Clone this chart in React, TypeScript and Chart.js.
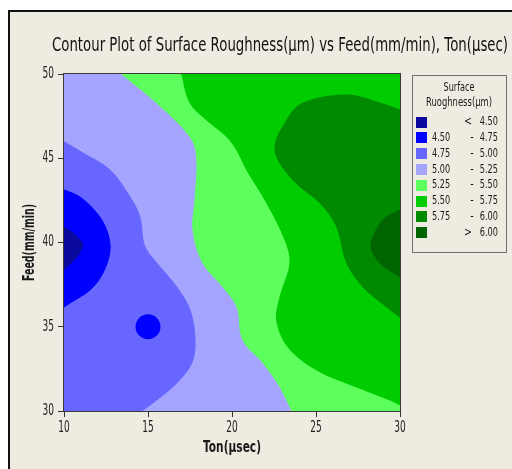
import React, { useEffect, useRef } from 'react';
import { Chart, registerables } from 'chart.js';

Chart.register(...registerables);

// Axis ticks
const tonTicks = [10, 15, 20, 25, 30];
const feedTicks = [30, 35, 40, 45, 50];

// Legend (contour levels)
const legendLow = ['', '4.50', '4.75', '5.00', '5.25', '5.50', '5.75', ''];
const legendSep = ['<', '-', '-', '-', '-', '-', '-', '>'];
const legendHigh = ['4.50', '4.75', '5.00', '5.25', '5.50', '5.75', '6.00', '6.00'];
const levelColors = ['#0a0a9c', '#0000ff', '#6767ff', '#a5a5ff', '#5cff5c', '#00cc00', '#008a00', '#006400'];

// Contour region boundaries, [Ton, Feed]
const region500to525: [number, number][] = [[9, 29], [31, 29], [31, 51], [9, 51]];
const regionBelow500: [number, number][] = [
  [9, 46.57], [10, 45.98], [11.13, 45.31], [12.74, 44.3], [13.93, 42.7], [14.52, 41.51], [14.7, 40.15],
  [14.92, 39.55], [15.52, 38.78], [16.71, 37.36], [17.5, 35.99], [17.8, 34.21], [17.6, 32.85],
  [16.71, 31.66], [15.52, 30.65], [14.62, 30.0], [13.8, 29.4], [9, 29.4],
];
const regionBelow475: [number, number][] = [
  [9, 43.5], [10, 43.12], [10.95, 42.7], [11.95, 41.75], [12.54, 40.74], [12.74, 39.55], [12.32, 38.19],
  [11.55, 37.18], [10.36, 36.41], [10, 36.17], [9, 35.5],
];
const regionBelow450: [number, number][] = [
  [9, 41.6], [10, 40.92], [10.54, 40.56], [10.95, 40.15], [11.13, 39.85], [10.95, 39.44], [10.77, 39.14],
  [10.18, 38.55], [10, 38.37], [9, 37.4],
];
const dotBelow475: [number, number] = [15, 35];
const regionAbove525: [number, number][] = [
  [12.2, 51], [13.43, 50], [15.52, 48.28], [17.5, 46.28], [17.9, 45.09], [17.8, 42.52], [17.68, 40.74],
  [18.27, 38.78], [19.46, 37.36], [20.3, 36.17], [20.65, 34.21], [21.85, 32.85], [22.86, 31.42],
  [23.57, 30], [24.07, 29], [31, 29], [31, 51],
];
const regionAbove550: [number, number][] = [
  [16.7, 51], [17.0, 50], [17.5, 48.28], [18.49, 47.27], [19.68, 46.28], [20.28, 45.49], [20.88, 44.3],
  [22.07, 42.34], [23.15, 40.15], [23.45, 38.78], [22.86, 36.77], [22.66, 35.4], [23.33, 33.8],
  [25.04, 32.43], [27.42, 31.42], [29.4, 30.65], [30, 30.36], [31, 29.9], [31, 51],
];
const regionAbove575: [number, number][] = [
  [31, 47.5], [30, 47.86], [28.81, 48.28], [26.83, 48.75], [24.23, 48.28], [23.26, 47.27], [22.56, 45.49],
  [23.63, 43.71], [25.24, 42.34], [26.23, 40.94], [26.83, 38.78], [27.8, 37.36], [29.21, 36.17],
  [30, 35.58], [31, 35],
];
const regionAbove600: [number, number][] = [
  [31, 42.5], [30, 41.93], [28.99, 41.34], [28.32, 40.15], [28.32, 39.55], [28.81, 38.78], [30, 37.95],
  [31, 37.3],
];

const titleText = 'Contour Plot of Surface Roughness(µm) vs Feed(mm/min), Ton(µsec)';
const xTitle = 'Ton(µsec)';
const yTitle = 'Feed(mm/min)';
const legendTitle = ['Surface', 'Ruoghness(µm)'];

const FONT = '"DejaVu Sans", "Liberation Sans", sans-serif';

function drawFit(ctx: CanvasRenderingContext2D, s: string, x: number, y: number, font: string, align: CanvasTextAlign, opts: { width?: number; sx?: number; rot?: number; color?: string }) {
  ctx.save();
  ctx.font = font;
  ctx.fillStyle = opts.color || '#1a1a1a';
  ctx.textBaseline = 'middle';
  ctx.textAlign = align;
  const w = ctx.measureText(s).width;
  const sx = opts.width ? opts.width / w : opts.sx || 1;
  ctx.translate(x, y);
  if (opts.rot) ctx.rotate(opts.rot);
  ctx.scale(sx, 1);
  ctx.fillText(s, 0, 0);
  ctx.restore();
}

const decorPlugin = {
  id: 'decor',
  beforeDraw(chart: any) {
    const ctx = chart.ctx as CanvasRenderingContext2D;
    const W = chart.width, H = chart.height;
    ctx.save();
    ctx.fillStyle = '#ffffff';
    ctx.fillRect(0, 0, W, H);
    ctx.fillStyle = '#eeebe1';
    ctx.fillRect(10, 12, W - 10, H - 12);
    ctx.fillStyle = '#111111';
    ctx.fillRect(8, 10, 2, H - 10);
    ctx.fillRect(8, 10, W - 8, 2);
    ctx.restore();
  },
  afterDraw(chart: any) {
    const ctx = chart.ctx as CanvasRenderingContext2D;
    const a = chart.chartArea;
    const xs = chart.scales.x, ys = chart.scales.y;
    // plot frame
    ctx.save();
    ctx.strokeStyle = '#3a3a3a';
    ctx.lineWidth = 1;
    ctx.strokeRect(Math.round(a.left) - 0.5, Math.round(a.top) - 0.5, Math.round(a.right - a.left) + 1, Math.round(a.bottom - a.top) + 1);
    ctx.restore();
    // tick labels
    tonTicks.forEach((t) => {
      drawFit(ctx, String(t), xs.getPixelForValue(t), a.bottom + 17, `15px ${FONT}`, 'center', { sx: 0.6, color: '#222' });
    });
    feedTicks.forEach((t) => {
      drawFit(ctx, String(t), a.left - 10, ys.getPixelForValue(t), `15px ${FONT}`, 'right', { sx: 0.6, color: '#222' });
    });
    // titles
    drawFit(ctx, titleText, 280, 46, `19px ${FONT}`, 'center', { width: 456, color: '#111' });
    drawFit(ctx, xTitle, (a.left + a.right) / 2, 448, `bold 15px ${FONT}`, 'center', { width: 58 });
    drawFit(ctx, yTitle, 30, (a.top + a.bottom) / 2, `bold 15px ${FONT}`, 'center', { width: 77, rot: -Math.PI / 2 });
    // legend
    const lx = 412, ly = 75, lw = 94, lh = 177;
    ctx.save();
    ctx.strokeStyle = '#6f6f6f';
    ctx.lineWidth = 1;
    ctx.strokeRect(lx + 0.5, ly + 0.5, lw, lh);
    ctx.restore();
    drawFit(ctx, legendTitle[0], lx + 47, 88, `12px ${FONT}`, 'center', { width: 31 });
    drawFit(ctx, legendTitle[1], lx + 47, 103, `12px ${FONT}`, 'center', { width: 66 });
    legendHigh.forEach((hi, i) => {
      const cy = 122 + i * 15.8;
      ctx.fillStyle = levelColors[i];
      ctx.fillRect(416, Math.round(cy - 5.5), 11, 11);
      if (legendLow[i]) drawFit(ctx, legendLow[i], 432, cy, `12px ${FONT}`, 'left', { sx: 0.68 });
      drawFit(ctx, legendSep[i], legendSep[i] === '-' ? 472 : 468, cy, `12px ${FONT}`, 'center', { sx: 0.8 });
      drawFit(ctx, hi, 498, cy, `12px ${FONT}`, 'right', { sx: 0.68 });
    });
  },
};

function region(pts: [number, number][], color: string, order: number) {
  return {
    data: pts.map(([x, y]) => ({ x, y })),
    showLine: true,
    borderColor: color,
    backgroundColor: color,
    borderWidth: 1,
    fill: 'shape',
    tension: 0.35,
    pointRadius: 0,
    order,
  };
}

export default function App() {
  const ref = useRef<HTMLCanvasElement>(null);
  useEffect(() => {
    if (!ref.current) return;
    const chart = new Chart(ref.current, {
      type: 'scatter',
      data: {
        datasets: [
          region(region500to525, levelColors[3], 9),
          region(regionBelow500, levelColors[2], 8),
          region(regionBelow475, levelColors[1], 7),
          region(regionBelow450, levelColors[0], 6),
          {
            data: [{ x: dotBelow475[0], y: dotBelow475[1] }],
            pointRadius: 12.5,
            pointBorderWidth: 0,
            backgroundColor: levelColors[1],
            borderColor: levelColors[1],
            order: 5,
          },
          region(regionAbove525, levelColors[4], 4),
          region(regionAbove550, levelColors[5], 3),
          region(regionAbove575, levelColors[6], 2),
          region(regionAbove600, levelColors[7], 1),
        ] as any,
      },
      options: {
        animation: false,
        responsive: false,
        devicePixelRatio: 1,
        events: [],
        layout: { padding: { left: 8, top: 74, right: 112, bottom: 0 } },
        plugins: { legend: { display: false }, tooltip: { enabled: false }, title: { display: false } },
        scales: {
          x: {
            type: 'linear',
            min: 10,
            max: 30,
            ticks: { display: false, stepSize: 5 },
            grid: { display: true, drawOnChartArea: false, drawTicks: true, tickLength: 6, color: '#333' },
            border: { display: false },
            afterFit: (s: any) => { s.height = 58; },
          },
          y: {
            type: 'linear',
            min: 30,
            max: 50,
            ticks: { display: false, stepSize: 5 },
            grid: { display: true, drawOnChartArea: false, drawTicks: true, tickLength: 6, color: '#333' },
            border: { display: false },
            afterFit: (s: any) => { s.width = 56; },
          },
        },
      } as any,
      plugins: [decorPlugin],
    });
    return () => chart.destroy();
  }, []);
  return (
    <div style={{ position: 'fixed', left: 0, top: 0, width: 512, height: 469 }}>
      <canvas ref={ref} width={512} height={469} style={{ display: 'block' }} />
    </div>
  );
}
